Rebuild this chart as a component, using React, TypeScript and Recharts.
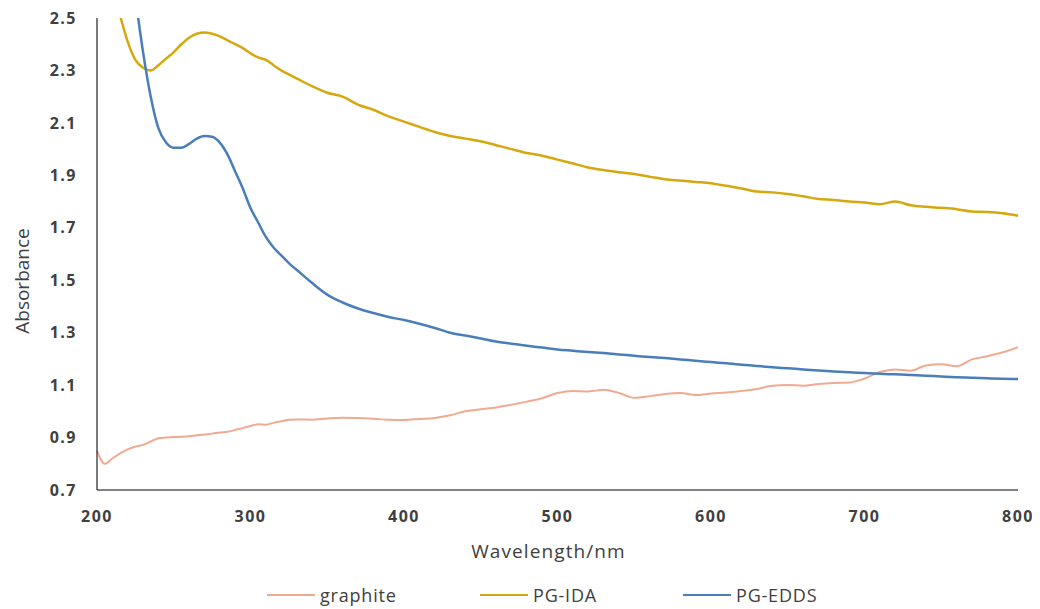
import { Label, Legend, Line, LineChart, XAxis, YAxis } from "recharts";

// wavelength grid (nm): 5 nm steps up to 330, then 10 nm
const wavelength = [
  200, 205, 210, 215, 220, 225, 230, 235, 240, 245, 250, 255, 260, 265, 270, 275, 280,
  285, 290, 295, 300, 305, 310, 315, 320, 325, 330,
  340, 350, 360, 370, 380, 390, 400, 410, 420, 430, 440, 450, 460, 470, 480, 490, 500,
  510, 520, 530, 540, 550, 560, 570, 580, 590, 600, 610, 620, 630, 640, 650, 660, 670,
  680, 690, 700, 710, 720, 730, 740, 750, 760, 770, 780, 790, 800,
];

const graphite = [
  0.85, 0.8, 0.82, 0.84, 0.855, 0.866, 0.872, 0.885, 0.897, 0.9, 0.902, 0.903, 0.905, 0.909,
  0.912, 0.915, 0.919, 0.922, 0.929, 0.936, 0.944, 0.951, 0.949, 0.956, 0.962, 0.968, 0.969,
  0.968, 0.973, 0.976, 0.975, 0.972, 0.968, 0.967, 0.971, 0.975, 0.985, 1.0, 1.008, 1.015,
  1.025, 1.037, 1.05, 1.07, 1.078, 1.076, 1.082, 1.07, 1.052, 1.058, 1.066, 1.07, 1.062,
  1.068, 1.072, 1.078, 1.085, 1.098, 1.1, 1.098, 1.104, 1.108, 1.11, 1.125, 1.15, 1.16,
  1.155, 1.175, 1.18, 1.172, 1.198, 1.21, 1.225, 1.245,
];

const pgIda = [
  null, null, 2.62, 2.51, 2.41, 2.34, 2.31, 2.3, 2.32, 2.345, 2.37, 2.4, 2.425, 2.44, 2.445,
  2.44, 2.43, 2.415, 2.4, 2.385, 2.365, 2.35, 2.34, 2.32, 2.3, 2.285, 2.27,
  2.24, 2.215, 2.2, 2.17, 2.15, 2.125, 2.105, 2.085, 2.065, 2.05, 2.04, 2.03, 2.015, 2.0,
  1.985, 1.975, 1.96, 1.945, 1.93, 1.92, 1.912, 1.905, 1.895, 1.885, 1.88, 1.875, 1.87,
  1.86, 1.85, 1.838, 1.835, 1.829, 1.82, 1.81, 1.806, 1.8, 1.796, 1.79, 1.8, 1.786, 1.78,
  1.776, 1.771, 1.762, 1.76, 1.755, 1.746,
];

const pgEdds = [
  null, null, null, null, 2.8, 2.58, 2.37, 2.2, 2.08, 2.025, 2.005, 2.005, 2.02, 2.04, 2.05,
  2.047, 2.025, 1.98, 1.915, 1.85, 1.775, 1.72, 1.665, 1.625, 1.595, 1.565, 1.54,
  1.49, 1.445, 1.415, 1.392, 1.375, 1.36, 1.348, 1.334, 1.318, 1.3, 1.289, 1.278, 1.266,
  1.258, 1.25, 1.243, 1.236, 1.231, 1.226, 1.222, 1.217, 1.212, 1.207, 1.203, 1.198, 1.193,
  1.188, 1.183, 1.178, 1.173, 1.168, 1.164, 1.16, 1.156, 1.152, 1.149, 1.146, 1.143, 1.141,
  1.139, 1.136, 1.133, 1.13, 1.128, 1.126, 1.124, 1.123,
];

const xTicks = [200, 300, 400, 500, 600, 700, 800];
const yTicks = [0.7, 0.9, 1.1, 1.3, 1.5, 1.7, 1.9, 2.1, 2.3, 2.5];

const series = [
  { key: "graphite", name: "graphite", color: "#F2A991", width: 2 },
  { key: "ida", name: "PG-IDA", color: "#D6A80F", width: 2.5 },
  { key: "edds", name: "PG-EDDS", color: "#4A7EBB", width: 2.5 },
];

const rows = wavelength.map((w, i) => ({
  w, graphite: graphite[i], ida: pgIda[i], edds: pgEdds[i],
}));

const FONT = "'Open Sans', 'Liberation Sans', sans-serif";
const tickStyle = { fontSize: 16, fontWeight: 700, fill: "#404040", letterSpacing: 1.5, fontFamily: FONT };

// y title sits a bit below the plot's middle, as in the original
function YTitle({ viewBox }: any) {
  const cy = viewBox.y + viewBox.height / 2 + 27;
  return (
    <text x={14} y={cy} transform={`rotate(-90 14 ${cy})`} textAnchor="middle"
      dominantBaseline="central" fontSize={19} fill="#404040" fontFamily={FONT}>
      Absorbance
    </text>
  );
}

function XTitle({ viewBox }: any) {
  const cx = viewBox.x + viewBox.width / 2 - 9;
  return (
    <text x={cx} y={viewBox.y + 68} textAnchor="middle" fontSize={19} letterSpacing={1.1}
      fill="#404040" fontFamily={FONT}>
      Wavelength/nm
    </text>
  );
}

function LegendBox() {
  const widths = [213, 203, 220];
  return (
    <div style={{ display: "flex", alignItems: "center", height: 32, paddingLeft: 259, fontFamily: FONT }}>
      {series.map((s, i) => (
        <div key={s.key} style={{ display: "flex", alignItems: "center", width: widths[i] }}>
          <span style={{ display: "inline-block", width: 48, height: 2.5, background: s.color }} />
          <span style={{ marginLeft: 5, fontSize: 18, letterSpacing: 0.8, color: "#404040" }}>{s.name}</span>
        </div>
      ))}
    </div>
  );
}

export default function App() {
  return (
    <LineChart width={1030} height={600} data={rows}
      margin={{ top: 10, right: 20, bottom: 0, left: 5 }}>
      <XAxis dataKey="w" type="number" domain={[200, 800]} ticks={xTicks} height={86}
        stroke="#595959" strokeWidth={1.5} tickLine={false} tickSize={6} tickMargin={15}
        tick={tickStyle}>
        <Label content={<XTitle />} />
      </XAxis>
      <YAxis type="number" domain={[0.7, 2.5]} ticks={yTicks} allowDataOverflow width={84}
        stroke="#222" strokeWidth={1.2} tickLine={false} tickSize={6} tickMargin={14}
        tick={tickStyle} tickFormatter={(v: number) => v.toFixed(1)}>
        <Label content={<YTitle />} />
      </YAxis>
      <Legend verticalAlign="bottom" content={<LegendBox />}
        wrapperStyle={{ left: 0, bottom: -3, width: 1030, height: 32 }} />
      {series.map((s) => (
        <Line key={s.key} dataKey={s.key} name={s.name} type="monotone" stroke={s.color}
          strokeWidth={s.width} dot={false} activeDot={false} isAnimationActive={false} />
      ))}
    </LineChart>
  );
}
